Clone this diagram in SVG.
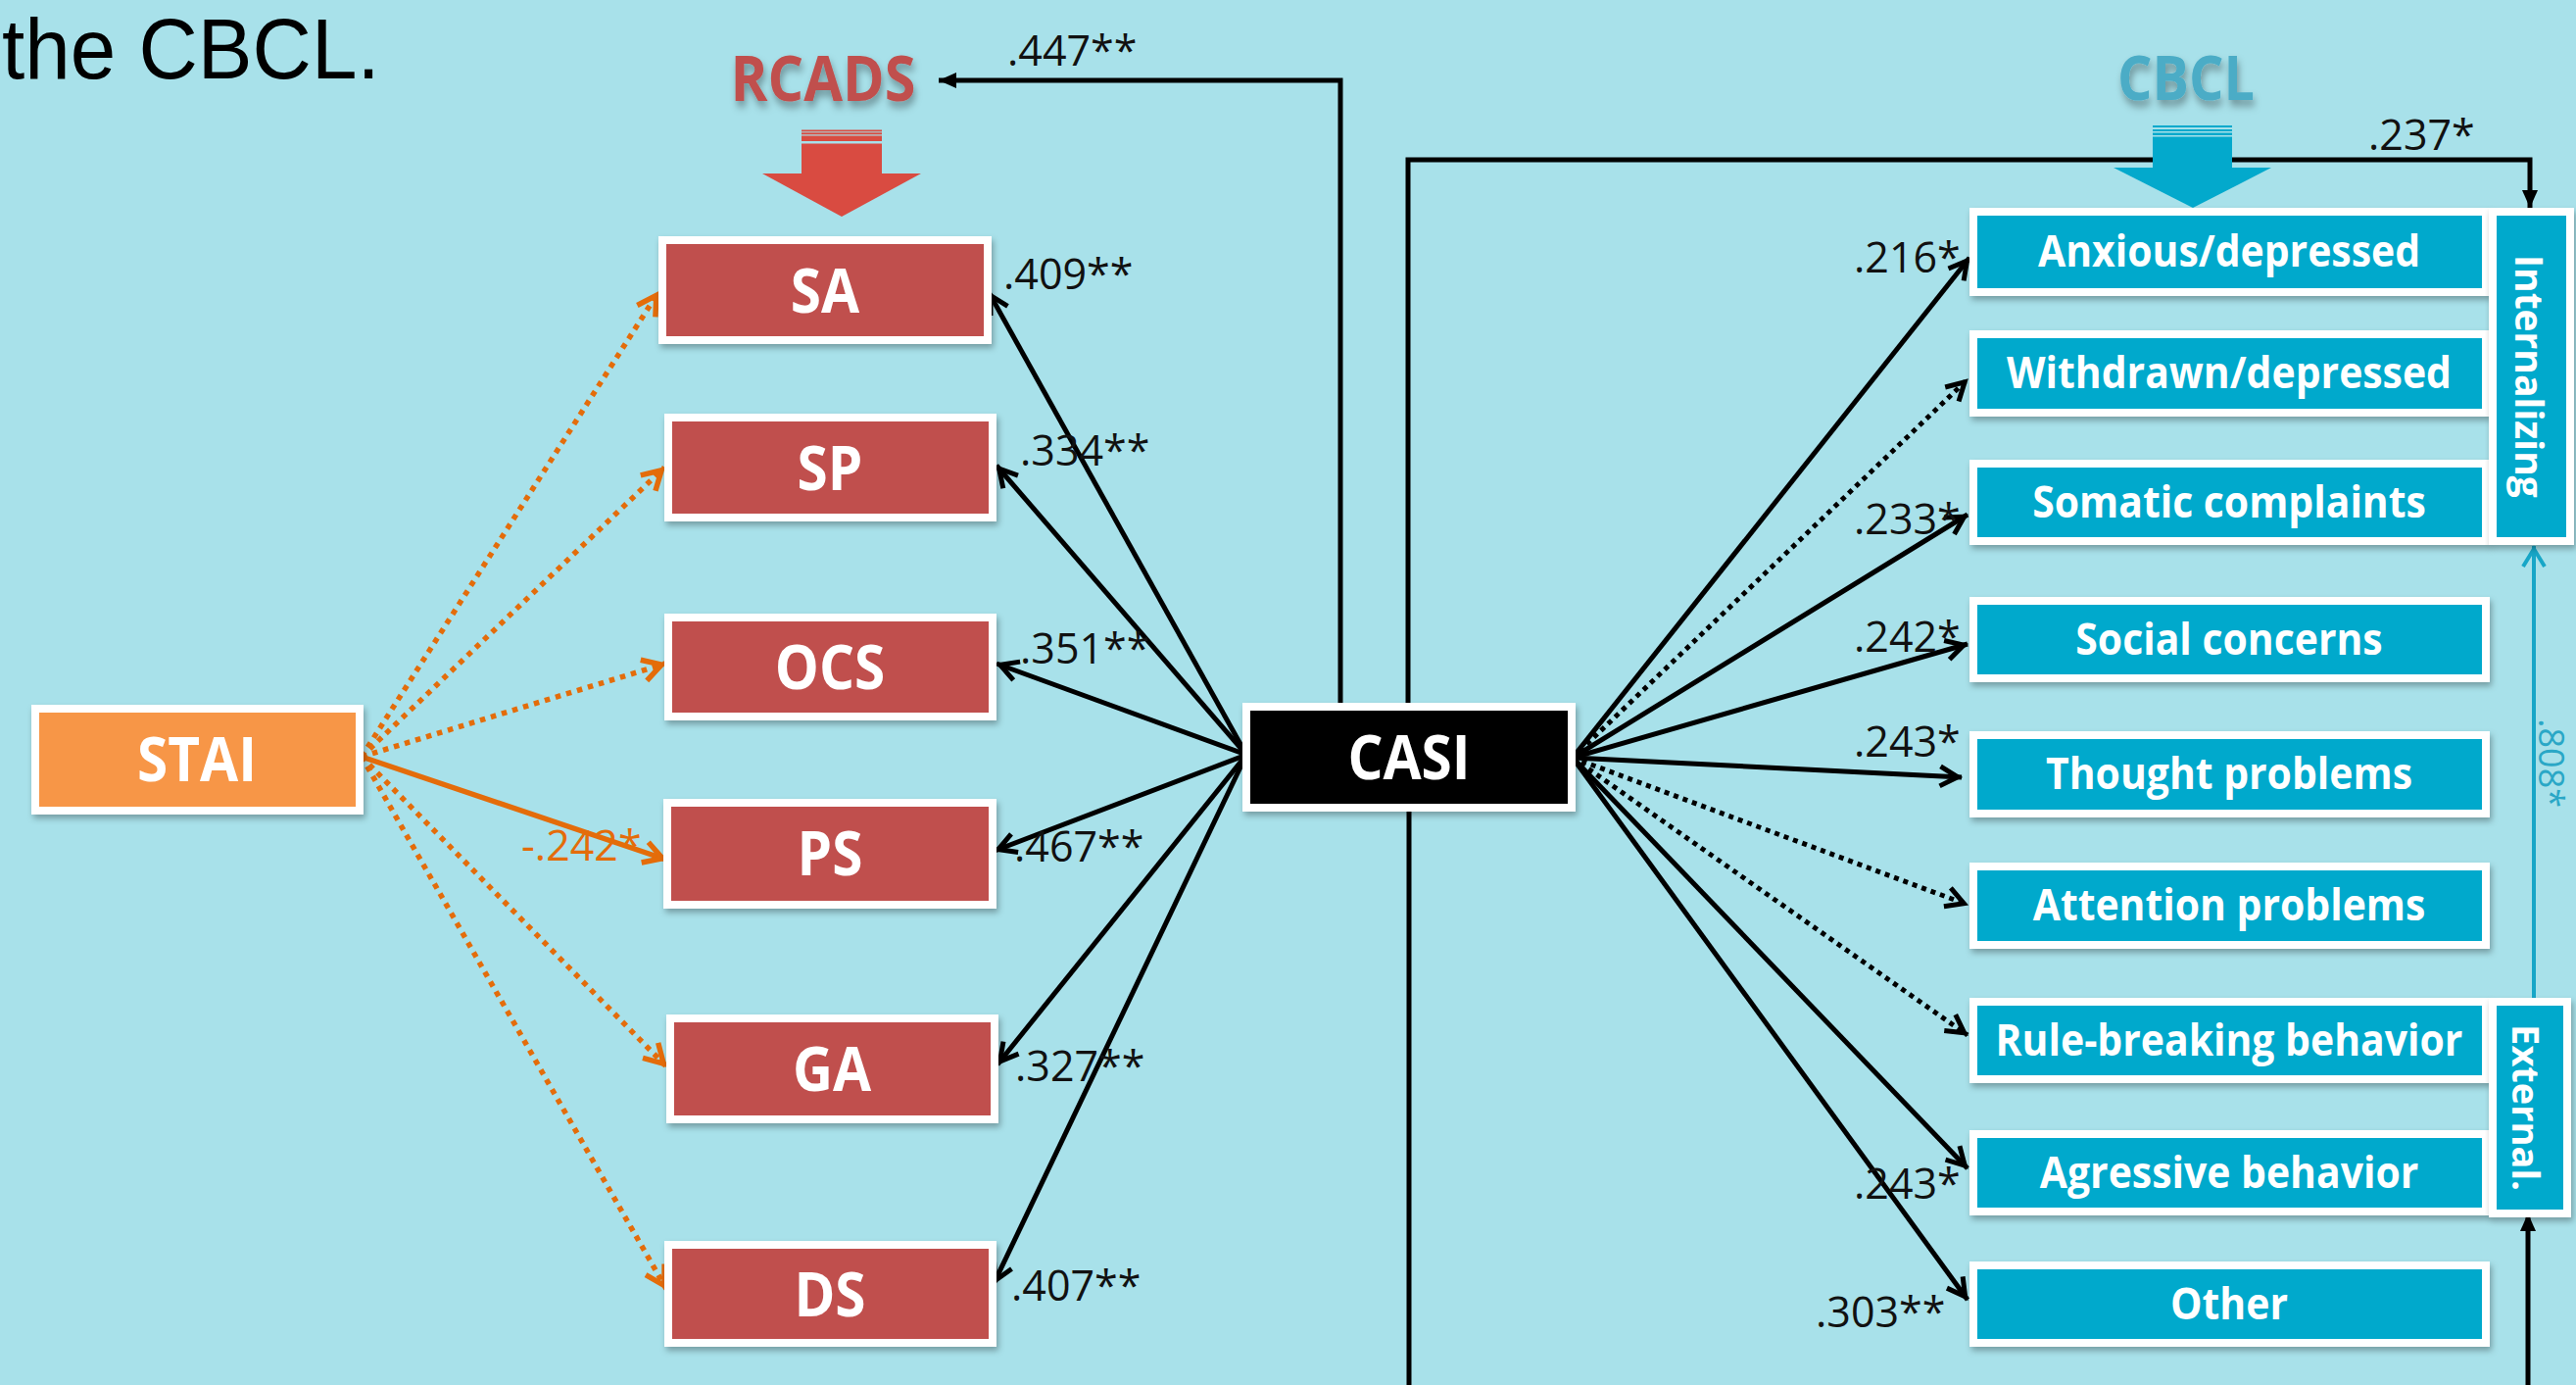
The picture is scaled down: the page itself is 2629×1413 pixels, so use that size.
<svg xmlns="http://www.w3.org/2000/svg" width="2629" height="1413" viewBox="0 0 2629 1413">
<defs>
<style>
.lbl{font-family:"Open Sans","Liberation Sans",sans-serif;font-size:43px;fill:#111}
.nl{font-family:"Open Sans","Liberation Sans",sans-serif;font-weight:bold;fill:#fff;text-anchor:middle}
.big{font-size:63px}
.sm{font-size:44px}
.box{stroke:#fff;stroke-width:8;filter:url(#sh)}
.red{fill:#c0504d}
.teal{fill:#03a9cc}
.k{stroke:#000;stroke-width:5;fill:none}
.kd{stroke:#000;stroke-width:5;fill:none;stroke-dasharray:5 5}
.o{stroke:#e46c0a;stroke-width:5.5;fill:none}
.od{stroke:#e46c0a;stroke-width:5.5;fill:none;stroke-dasharray:5.5 6}
.ttl{font-family:"Open Sans","Liberation Sans",sans-serif;font-weight:bold;text-anchor:middle;filter:url(#tsh)}
</style>
<filter id="sh" x="-10%" y="-10%" width="125%" height="140%">
<feDropShadow dx="2" dy="4" stdDeviation="3" flood-color="#000" flood-opacity="0.3"/>
</filter>
<filter id="tsh" x="-10%" y="-20%" width="130%" height="160%">
<feDropShadow dx="2" dy="6" stdDeviation="4" flood-color="#000" flood-opacity="0.35"/>
</filter>
<marker id="ak" viewBox="-30 -15 34 30" refX="0" refY="0" markerWidth="34" markerHeight="30" markerUnits="userSpaceOnUse" orient="auto" overflow="visible">
<path d="M-22,-10 L-4,0 L-22,10" fill="none" stroke="#000" stroke-width="5"/>
</marker>
<marker id="ao" viewBox="-30 -15 34 30" refX="0" refY="0" markerWidth="34" markerHeight="30" markerUnits="userSpaceOnUse" orient="auto" overflow="visible">
<path d="M-23,-11 L-4,0 L-23,11" fill="none" stroke="#e46c0a" stroke-width="5.5"/>
</marker>
<marker id="at" viewBox="-30 -15 34 30" refX="0" refY="0" markerWidth="34" markerHeight="30" markerUnits="userSpaceOnUse" orient="auto" overflow="visible">
<path d="M-21,-11 L-3,0 L-21,11" fill="none" stroke="#17a6c7" stroke-width="4"/>
</marker>
<marker id="af" viewBox="-20 -10 22 20" refX="0" refY="0" markerWidth="22" markerHeight="20" markerUnits="userSpaceOnUse" orient="auto" overflow="visible">
<path d="M-18,-8 L0,0 L-18,8 Z" fill="#000"/>
</marker>
</defs>
<rect x="0" y="0" width="2629" height="1413" fill="#a8e1ea"/>
<text font-family="Liberation Sans, Arial, sans-serif" font-size="88" fill="#000" transform="translate(2,80) scale(0.95,1)">the CBCL.</text>

<g id="connectors">
<path class="k" d="M1368,721 V82 H958" marker-end="url(#af)"/>
<path class="k" d="M1437,721 V163 H2582 V212" marker-end="url(#af)"/>
<path class="k" d="M1438,824 V1413"/>
<path class="k" d="M2580,1413 V1238" marker-end="url(#af)"/>
<path d="M2586,1021 V557" stroke="#17a6c7" stroke-width="4" fill="none" marker-end="url(#at)"/>
<line class="k" x1="1272" y1="770" x2="1009" y2="298" marker-end="url(#ak)"/>
<line class="k" x1="1272" y1="770" x2="1017" y2="475" marker-end="url(#ak)"/>
<line class="k" x1="1272" y1="770" x2="1017" y2="677" marker-end="url(#ak)"/>
<line class="k" x1="1272" y1="770" x2="1015" y2="868" marker-end="url(#ak)"/>
<line class="k" x1="1272" y1="770" x2="1018" y2="1086" marker-end="url(#ak)"/>
<line class="k" x1="1272" y1="770" x2="1014" y2="1310" marker-end="url(#ak)"/>
<line class="k" x1="1605" y1="773" x2="2010" y2="263" marker-end="url(#ak)"/>
<line class="kd" x1="1605" y1="773" x2="2008" y2="387" marker-end="url(#ak)"/>
<line class="k" x1="1605" y1="773" x2="2008" y2="525" marker-end="url(#ak)"/>
<line class="k" x1="1605" y1="773" x2="2008" y2="657" marker-end="url(#ak)"/>
<line class="k" x1="1605" y1="773" x2="2002" y2="793" marker-end="url(#ak)"/>
<line class="kd" x1="1605" y1="773" x2="2008" y2="923" marker-end="url(#ak)"/>
<line class="kd" x1="1605" y1="773" x2="2008" y2="1056" marker-end="url(#ak)"/>
<line class="k" x1="1605" y1="773" x2="2008" y2="1192" marker-end="url(#ak)"/>
<line class="k" x1="1605" y1="773" x2="2008" y2="1326" marker-end="url(#ak)"/>
<line class="od" x1="369" y1="772" x2="672" y2="298" marker-end="url(#ao)"/>
<line class="od" x1="369" y1="772" x2="678" y2="477" marker-end="url(#ao)"/>
<line class="od" x1="369" y1="772" x2="679" y2="677" marker-end="url(#ao)"/>
<line class="o" x1="369" y1="772" x2="680" y2="877" marker-end="url(#ao)"/>
<line class="od" x1="369" y1="772" x2="680" y2="1088" marker-end="url(#ao)"/>
<line class="od" x1="369" y1="772" x2="680" y2="1315" marker-end="url(#ao)"/>
</g>

<g id="labels">
<text class="lbl" x="1028" y="67">.447**</text>
<text class="lbl" x="1024" y="295">.409**</text>
<text class="lbl" x="1041" y="475">.334**</text>
<text class="lbl" x="1041" y="677">.351**</text>
<text class="lbl" x="1035" y="879">.467**</text>
<text class="lbl" x="1036" y="1103">.327**</text>
<text class="lbl" x="1032" y="1327">.407**</text>
<text class="lbl" x="2417" y="153">.237*</text>
<text class="lbl" x="1892" y="278">.216*</text>
<text class="lbl" x="1892" y="545">.233*</text>
<text class="lbl" x="1892" y="665">.242*</text>
<text class="lbl" x="1892" y="772">.243*</text>
<text class="lbl" x="1892" y="1223">.243*</text>
<text class="lbl" x="1853" y="1354">.303**</text>
<text class="lbl" x="532" y="878" style="fill:#e46c0a">-.242*</text>
<text class="lbl" transform="translate(2591,733) rotate(90)" style="fill:#2aa7c6;font-size:36px">.808*</text>
</g>

<g id="rcads-title">
<text class="ttl" font-size="64" fill="#c0504d" transform="translate(840,103) scale(0.9,1)">RCADS</text>
<g fill="#d94b41">
<rect x="818" y="132.5" width="82" height="1.8"/>
<rect x="818" y="135.3" width="82" height="2"/>
<rect x="818" y="138.5" width="82" height="5.5"/>
<rect x="818" y="146.5" width="82" height="31"/>
<polygon points="778,177 940,177 859,221"/>
</g>
</g>
<g id="cbcl-title">
<text class="ttl" font-size="62" fill="#4bacc6" transform="translate(2231,102) scale(0.9,1)">CBCL</text>
<g fill="#03a9cc">
<rect x="2197" y="128" width="81" height="2"/>
<rect x="2197" y="132" width="81" height="2"/>
<rect x="2197" y="135.5" width="81" height="2.5"/>
<rect x="2197" y="139.5" width="81" height="32"/>
<polygon points="2157,171 2318,171 2238,212"/>
</g>
</g>

<g id="STAI"><rect class="box" x="36" y="723" width="331" height="104" fill="#f79646"/><text class="nl big" transform="translate(201,797) scale(0.9,1)">STAI</text></g>
<g id="CASI"><rect class="box" x="1272" y="721" width="332" height="103" fill="#000"/><text class="nl big" transform="translate(1438,795) scale(0.9,1)">CASI</text></g>
<g id="SA"><rect class="box red" x="676" y="245" width="332" height="102"/><text class="nl big" transform="translate(842,319) scale(0.9,1)">SA</text></g>
<g id="SP"><rect class="box red" x="682" y="426" width="331" height="102"/><text class="nl big" transform="translate(847,500) scale(0.9,1)">SP</text></g>
<g id="OCS"><rect class="box red" x="682" y="630" width="331" height="101"/><text class="nl big" transform="translate(847,703) scale(0.9,1)">OCS</text></g>
<g id="PS"><rect class="box red" x="681" y="819" width="332" height="104"/><text class="nl big" transform="translate(847,893) scale(0.9,1)">PS</text></g>
<g id="GA"><rect class="box red" x="684" y="1039" width="331" height="103"/><text class="nl big" transform="translate(849,1113) scale(0.9,1)">GA</text></g>
<g id="DS"><rect class="box red" x="682" y="1270" width="331" height="100"/><text class="nl big" transform="translate(847,1343) scale(0.9,1)">DS</text></g>

<g id="anxious"><rect class="box teal" x="2014" y="216" width="523" height="82"/><text class="nl sm" transform="translate(2275,272) scale(0.93,1)">Anxious/depressed</text></g>
<g id="withdrawn"><rect class="box teal" x="2014" y="341" width="523" height="80"/><text class="nl sm" transform="translate(2275,396) scale(0.93,1)">Withdrawn/depressed</text></g>
<g id="somatic"><rect class="box teal" x="2014" y="473" width="523" height="79"/><text class="nl sm" transform="translate(2275,528) scale(0.93,1)">Somatic complaints</text></g>
<g id="social"><rect class="box teal" x="2014" y="613" width="523" height="79"/><text class="nl sm" transform="translate(2275,668) scale(0.93,1)">Social concerns</text></g>
<g id="thought"><rect class="box teal" x="2014" y="750" width="523" height="80"/><text class="nl sm" transform="translate(2275,805) scale(0.93,1)">Thought problems</text></g>
<g id="attention"><rect class="box teal" x="2014" y="884" width="523" height="80"/><text class="nl sm" transform="translate(2275,939) scale(0.93,1)">Attention problems</text></g>
<g id="rulebreaking"><rect class="box teal" x="2014" y="1022" width="523" height="79"/><text class="nl sm" transform="translate(2275,1077) scale(0.93,1)">Rule-breaking behavior</text></g>
<g id="agressive"><rect class="box teal" x="2014" y="1157" width="523" height="79"/><text class="nl sm" transform="translate(2275,1212) scale(0.93,1)">Agressive behavior</text></g>
<g id="other"><rect class="box teal" x="2014" y="1291" width="523" height="79"/><text class="nl sm" transform="translate(2275,1346) scale(0.93,1)">Other</text></g>
<g id="internalizing"><rect class="box teal" x="2544" y="216" width="79" height="336"/><text class="nl" font-size="39" transform="translate(2567,384) rotate(90)">Internalizing</text></g>
<g id="external"><rect class="box teal" x="2544" y="1022" width="76" height="216"/><text class="nl" font-size="38" transform="translate(2564,1130) rotate(90)">External.</text></g>
</svg>
